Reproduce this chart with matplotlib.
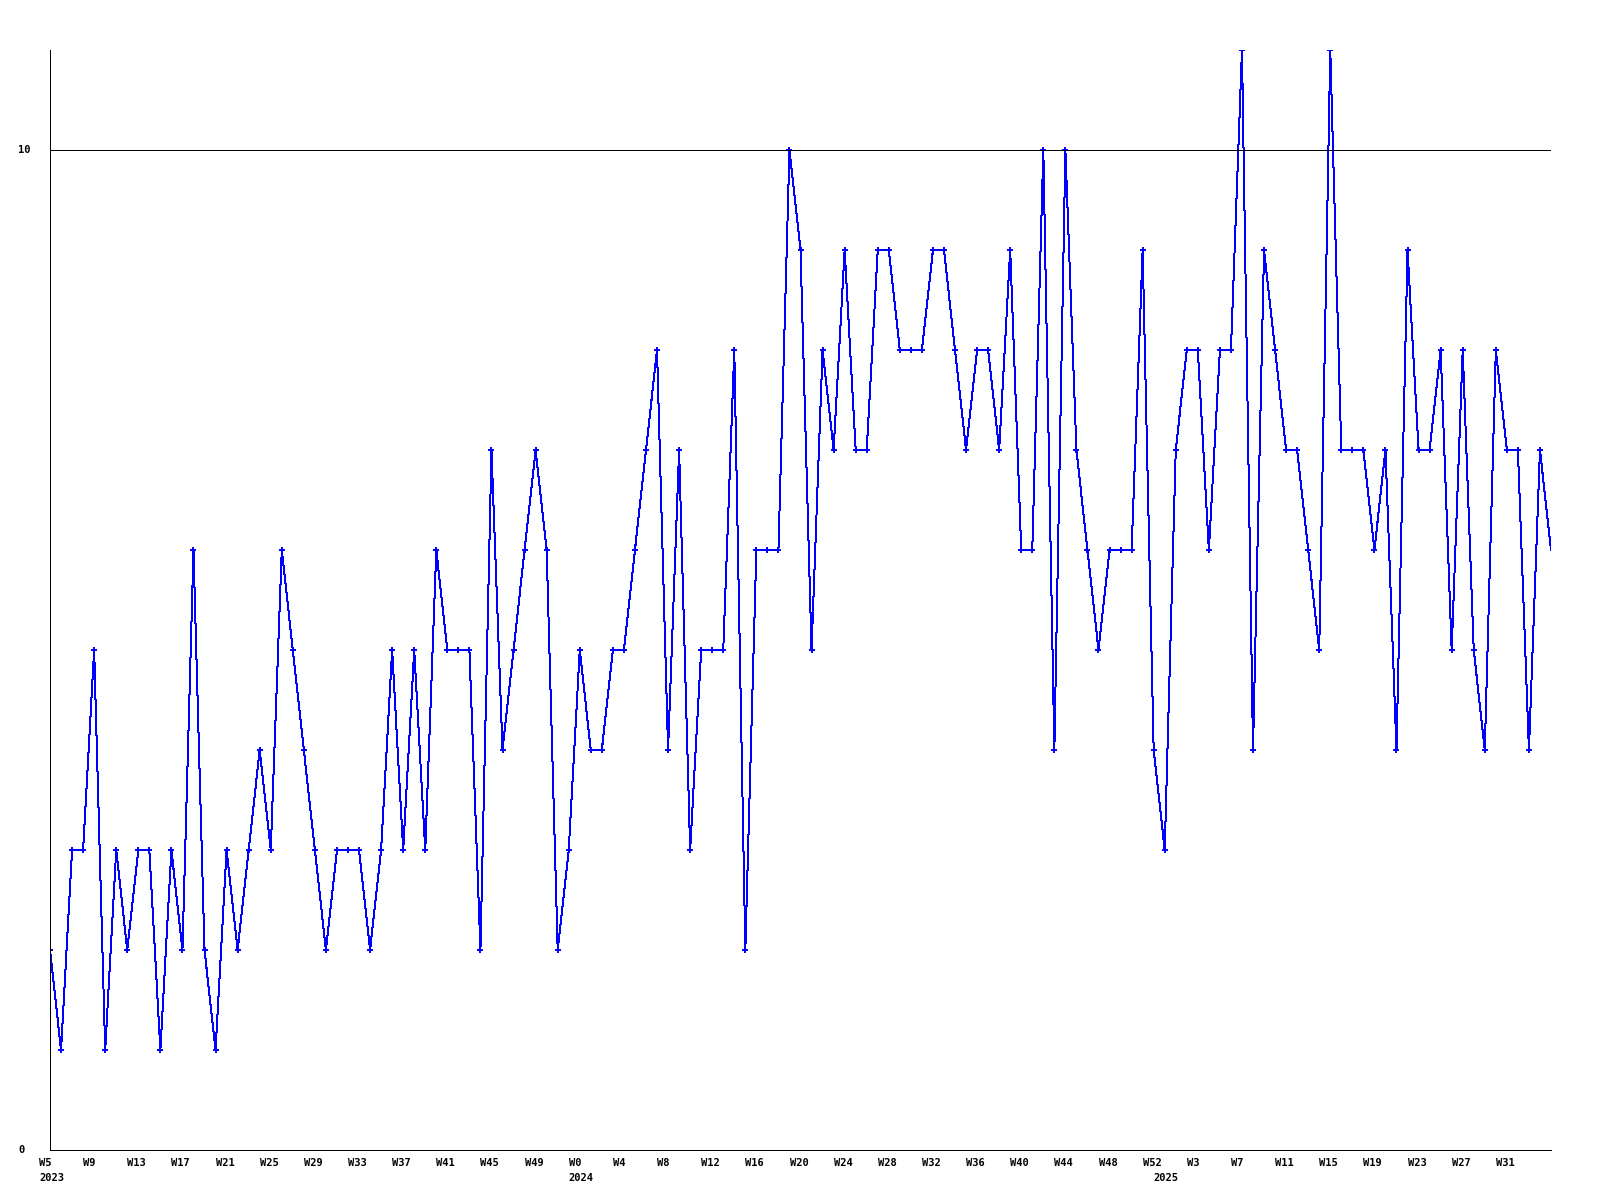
import matplotlib
matplotlib.use("Agg")
import matplotlib.pyplot as plt
import matplotlib.transforms as mtransforms

# weekly counts, 2023 W5 .. 2025 W35
values_2023 = [2, 1, 3, 3, 5, 1, 3, 2, 3, 3, 1, 3, 2, 6, 2, 1, 3, 2, 3, 4,
               3, 6, 5, 4, 3, 2, 3, 3, 3, 2, 3, 5, 3, 5, 3, 6, 5, 5, 5, 2,
               7, 4, 5, 6, 7, 6, 2, 3]
values_2024 = [5, 4, 4, 5, 5, 6, 7, 8, 4, 7, 3, 5, 5, 5, 8, 2, 6, 6, 6, 10,
               9, 5, 8, 7, 9, 7, 7, 9, 9, 8, 8, 8, 9, 9, 8, 7, 8, 8, 7, 9,
               6, 6, 10, 4, 10, 7, 6, 5, 6, 6, 6, 9, 4]
values_2025 = [3, 7, 8, 8, 6, 8, 8, 11, 4, 9, 8, 7, 7, 6, 5, 11, 7, 7, 7, 6,
               7, 4, 9, 7, 7, 8, 5, 8, 5, 4, 8, 7, 7, 4, 7, 6]

years = [2023, 2024, 2025]
first_weeks = [5, 0, 0]
series = [values_2023, values_2024, values_2025]

y_ticks = [0, 10]
ref_line = 10

FONT = dict(family="DejaVu Sans Mono", fontsize=7.5, fontweight="bold")
PX = 0.72  # one pixel at 100 dpi


def build_axis():
    # flatten the yearly blocks into one x index with labels
    vals, week_lbl, year_pos = [], [], []
    for yr, w0, block in zip(years, first_weeks, series):
        year_pos.append((len(vals), str(yr)))
        for i, v in enumerate(block):
            vals.append(v)
            week_lbl.append("W%d" % (w0 + i))
    return vals, week_lbl, year_pos
#END build_axis


def plot_chart():
    vals, week_lbl, year_pos = build_axis()
    x = list(range(len(vals)))
    last = len(vals) - 1

    fig = plt.figure(figsize=(16, 12), dpi=100)
    ax = fig.add_axes([50 / 1600, 50 / 1200, 1501 / 1600, 1100 / 1200])

    ax.plot(x, vals, color="#0000ff", linewidth=PX, marker="+",
            markersize=5, markeredgewidth=1.4, markevery=list(range(last)),
            antialiased=False)
    ax.axhline(ref_line, color="black", linewidth=PX, antialiased=False)

    ax.set_xlim(0, last)
    ax.set_ylim(0, 11)

    for side in ["top", "right"]:
        ax.spines[side].set_visible(False)
    for side in ["left", "bottom"]:
        ax.spines[side].set_linewidth(PX)
        ax.spines[side].set_antialiased(False)

    ax.set_xticks([])
    ax.set_yticks([])

    # x labels: every 4th week, left aligned a bit before the point
    shift = mtransforms.ScaledTranslation(-11 / 100, 0, fig.dpi_scale_trans)
    xtr = mtransforms.blended_transform_factory(ax.transData, ax.transAxes) + shift
    for i in range(0, last, 4):
        ax.text(i, -0.0072, week_lbl[i], transform=xtr, ha="left", va="top", **FONT)
    for i, yr in year_pos:
        ax.text(i, -0.021, yr, transform=xtr, ha="left", va="top", **FONT)

    # y labels on the left margin
    ytr = mtransforms.blended_transform_factory(fig.transFigure, ax.transData)
    for t in y_ticks:
        ax.text(18 / 1600, t, str(t), transform=ytr, ha="left", va="center", **FONT)

    fig.savefig("out.png", dpi=100)
#END plot_chart


plot_chart()
